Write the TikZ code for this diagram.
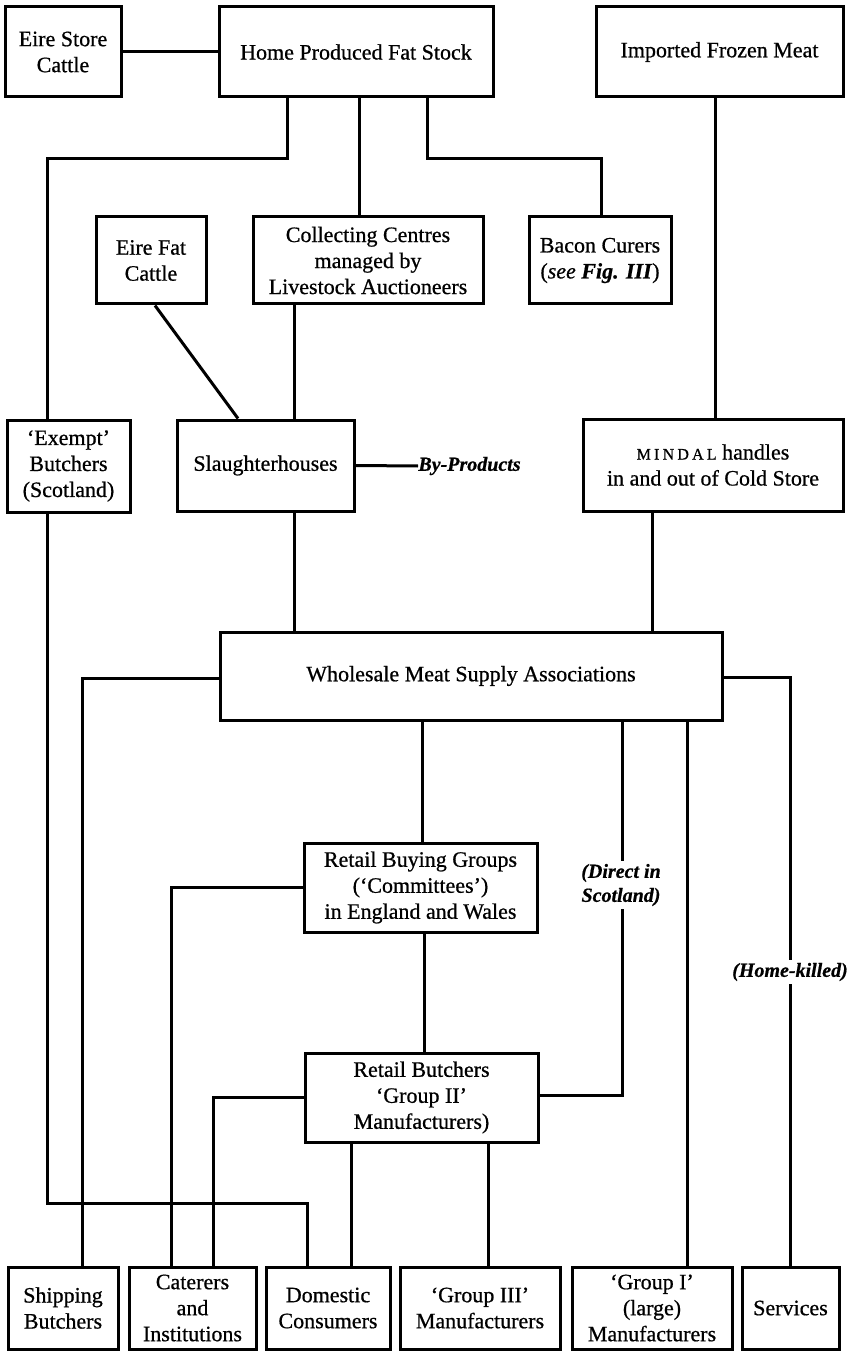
\documentclass[tikz,border=0pt]{standalone}
\usepackage{fontspec}
\setmainfont{Liberation Serif}[FakeBold=0.7]
\begin{document}
\begin{tikzpicture}[x=0.5pt,y=-0.5pt,
  box/.style={draw, line width=1.5pt, align=center, inner sep=1pt,
              font=\fontsize{11}{13}\selectfont},
  link/.style={line width=1.5pt},
  tag/.style={font=\fontsize{10}{12}\selectfont\bfseries\itshape,
              align=center, inner sep=1.5pt}]
\useasboundingbox (0,0) rectangle (855,1352);

% ---- sources
\node[box, minimum width=58pt, minimum height=45pt] (eirestore) at (63,52) {Eire Store\\Cattle};
\node[box, minimum width=137pt, minimum height=45pt] (home) at (356,52) {Home Produced Fat Stock};
\node[box, minimum width=123.5pt, minimum height=45pt] (imported) at (719.5,52) {Imported Frozen Meat};

% ---- second tier
\node[box, minimum width=55pt, minimum height=43.5pt] (eirefat) at (151,260.5) {Eire Fat\\Cattle};
\node[box, minimum width=115pt, minimum height=43.5pt] (collect) at (368,260.5) {Collecting Centres\\managed by\\Livestock Auctioneers};
\node[box, minimum width=71pt, minimum height=43.5pt] (bacon) at (600,260.5) {Bacon Curers\\(\textit{see} \textbf{\textit{Fig. III}})};

% ---- slaughter / store tier
\node[box, minimum width=61.5pt, minimum height=46pt] (exempt) at (68.5,466) {`Exempt'\\Butchers\\(Scotland)};
\node[box, minimum width=88.5pt, minimum height=45.5pt] (slaughter) at (265.5,465.5) {Slaughterhouses};
\node[box, minimum width=130pt, minimum height=46pt] (mindal) at (713,465)
  {{\fontsize{8}{13}\selectfont M\kern1.6pt I\kern1.6pt N\kern1.6pt D\kern1.6pt A\kern1.6pt L} handles\\in and out of Cold Store};

% ---- wholesale and retail
\node[box, minimum width=251pt, minimum height=44pt] (wholesale) at (471,676) {Wholesale Meat Supply Associations};
\node[box, minimum width=116.5pt, minimum height=44.5pt] (rbg) at (420.5,887.5) {Retail Buying Groups\\(`Committees')\\in England and Wales};
\node[box, minimum width=116.5pt, minimum height=44.5pt] (rbutch) at (421.5,1097.5) {Retail Butchers\\`Group II'\\Manufacturers)};

% ---- final outlets
\node[box, minimum width=55pt, minimum height=41pt] (shipping) at (63,1308) {Shipping\\Butchers};
\node[box, minimum width=63.5pt, minimum height=41pt] (caterers) at (192.5,1308) {Caterers\\and\\Institutions};
\node[box, minimum width=62pt, minimum height=41pt] (domestic) at (328,1308) {Domestic\\Consumers};
\node[box, minimum width=80pt, minimum height=41pt] (group3) at (480,1308) {`Group III'\\Manufacturers};
\node[box, minimum width=80pt, minimum height=41pt] (group1) at (652,1308) {`Group I'\\(large)\\Manufacturers};
\node[box, minimum width=48.5pt, minimum height=41pt] (services) at (790.5,1308) {Services};

% ---- side labels
\node[tag, anchor=west, inner sep=0pt] (byp) at (418,466) {By-Products};
\node[tag] (direct) at (621,885) {(Direct in\\Scotland)};
\node[tag] (homekilled) at (790,972) {(Home-killed)};

% ---- bend points of the connectors
\coordinate (p1) at (287,159);
\coordinate (p2) at (47,159);
\coordinate (p3) at (359,159);
\coordinate (p4) at (427,159);
\coordinate (p5) at (601,159);
\coordinate (p6) at (715,300);
\coordinate (d1) at (155,300);
\coordinate (d2) at (238,300);
\coordinate (p7) at (294,500);
\coordinate (p8) at (652,500);
\coordinate (q1) at (47,1203);
\coordinate (q2) at (307,1203);
\coordinate (r1) at (82,678);
\coordinate (r2) at (790,677);
\coordinate (p9) at (422.5,800);
\coordinate (p10) at (622,800);
\coordinate (p11) at (622,1095);
\coordinate (p12) at (687,800);
\coordinate (s1) at (171,887);
\coordinate (p13) at (424,1000);
\coordinate (s2) at (213,1097);
\coordinate (p14) at (351,1200);
\coordinate (p15) at (488,1200);

% ---- connectors
\draw[link] (eirestore.east) -- (home.west);
\draw[link] (home.south -| p1) -- (p1) -- (p2) -- (exempt.north -| p2);
\draw[link] (home.south -| p3) -- (collect.north -| p3);
\draw[link] (home.south -| p4) -- (p4) -- (p5) -- (bacon.north -| p5);
\draw[link] (imported.south -| p6) -- (mindal.north -| p6);
\draw[link] (eirefat.south -| d1) -- (slaughter.north -| d2);
\draw[link] (collect.south -| p7) -- (slaughter.north -| p7);
\draw[link] (slaughter.east) -- (byp.west);
\draw[link] (exempt.south -| q1) -- (q1) -- (q2) -- (domestic.north -| q2);
\draw[link] (slaughter.south -| p7) -- (wholesale.north -| p7);
\draw[link] (mindal.south -| p8) -- (wholesale.north -| p8);
\draw[link] (wholesale.west |- r1) -- (r1) -- (shipping.north -| r1);
\draw[link] (wholesale.east |- r2) -- (r2) -- (homekilled.north -| r2);
\draw[link] (homekilled.south -| r2) -- (services.north -| r2);
\draw[link] (wholesale.south -| p9) -- (rbg.north -| p9);
\draw[link] (wholesale.south -| p10) -- (direct.north -| p10);
\draw[link] (direct.south -| p10) -- (p11) -- (rbutch.east |- p11);
\draw[link] (wholesale.south -| p12) -- (group1.north -| p12);
\draw[link] (rbg.west |- s1) -- (s1) -- (caterers.north -| s1);
\draw[link] (rbg.south -| p13) -- (rbutch.north -| p13);
\draw[link] (rbutch.west |- s2) -- (s2) -- (caterers.north -| s2);
\draw[link] (rbutch.south -| p14) -- (domestic.north -| p14);
\draw[link] (rbutch.south -| p15) -- (group3.north -| p15);
\end{tikzpicture}
\end{document}
